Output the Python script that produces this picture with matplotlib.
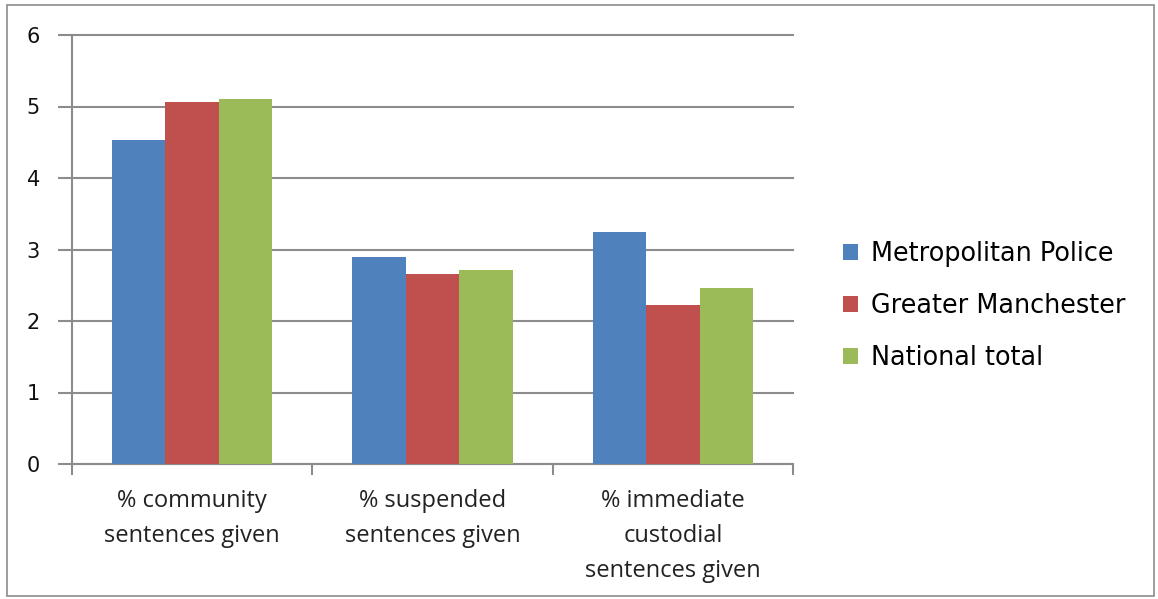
import matplotlib
matplotlib.use("Agg")
import matplotlib.pyplot as plt
from matplotlib.patches import Rectangle
import numpy as np

categories = ["% community\nsentences given", "% suspended\nsentences given",
              "% immediate\ncustodial\nsentences given"]
series_names = ["Metropolitan Police", "Greater Manchester", "National total"]
metropolitan = [4.53, 2.89, 3.24]
manchester = [5.06, 2.66, 2.22]
national = [5.11, 2.71, 2.46]
colors = ["#4f81bd", "#c0504d", "#9bbb59"]
yticks = [0, 1, 2, 3, 4, 5, 6]

fig = plt.figure(figsize=(11.58, 5.99), dpi=100)
fig.patches.append(Rectangle((7/1158, 0.005), 1 - 8/1158 - 0.003, 1 - 5/599 - 0.005,
                             transform=fig.transFigure, fill=False,
                             edgecolor="#8c8c8c", linewidth=1.2))
ax = fig.add_axes([72/1158, 1 - 464/599, (793 - 72)/1158, (464 - 35)/599])

x = np.arange(len(categories))
w = 2/9
for i, (vals, name) in enumerate(zip([metropolitan, manchester, national], series_names)):
    ax.bar(x + (i - 1) * w, vals, width=w, color=colors[i], label=name, zorder=3)

ax.set_xlim(-0.5, 2.5)
ax.set_ylim(0, 6)
ax.set_yticks(yticks)
ax.set_yticklabels([str(t) for t in yticks], fontsize=15, family="DejaVu Sans",
                   color="#111111")
ax.yaxis.grid(True, color="#8c8c8c", linewidth=1.5, zorder=0)
for gl in ax.get_ygridlines():
    gl.set_clip_on(False)
ax.set_xticks(x)
ax.set_xticklabels(categories, fontsize=17, family="Open Sans", linespacing=1.6,
                   color="#222222")
ax.tick_params(axis="x", length=0, pad=18)
ax.tick_params(axis="y", length=10, width=1.5, color="#8c8c8c", pad=13)
ax.set_xticks([-0.5, 0.5, 1.5, 2.5], minor=True)
ax.tick_params(axis="x", which="minor", length=8, width=1.5, color="#8c8c8c")
for s in ["top", "right"]:
    ax.spines[s].set_visible(False)
for s in ["left", "bottom"]:
    ax.spines[s].set_color("#8c8c8c")
    ax.spines[s].set_linewidth(1.5)

leg = ax.legend(loc="center left", frameon=False,
                prop={"family": "DejaVu Sans", "size": 18.4}, handlelength=0.6,
                handleheight=0.6, labelspacing=1.02, handletextpad=0.5,
                borderpad=0, borderaxespad=0)
leg.set_bbox_to_anchor((843/1158, 1 - 306/599), transform=fig.transFigure)

fig.savefig("out.png", dpi=100)
